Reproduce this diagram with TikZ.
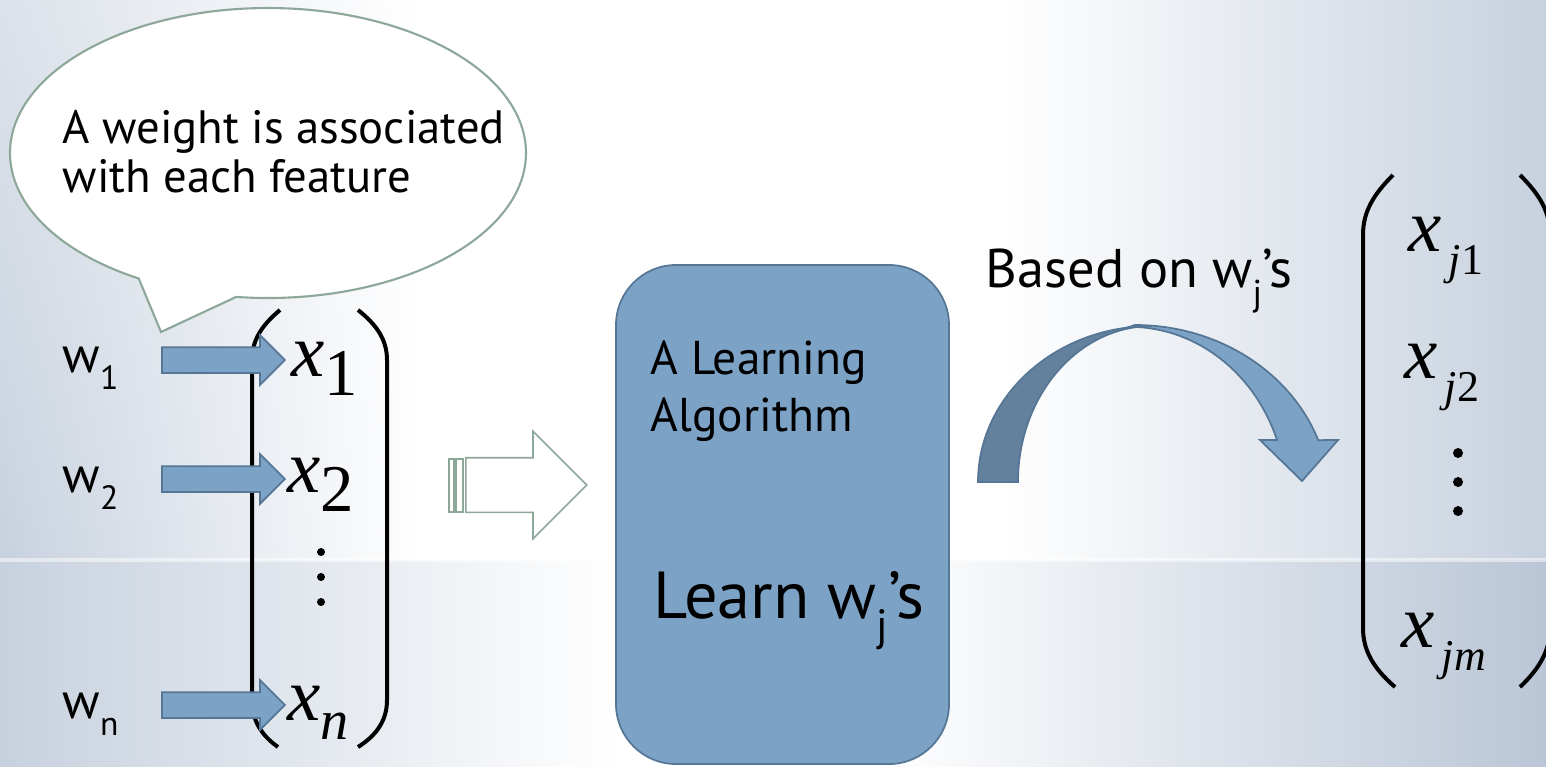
\documentclass[tikz,border=0pt]{standalone}
\usepackage{fontspec}
\setmainfont{PT Sans}
\newfontfamily\eqfont{Liberation Serif}
\usetikzlibrary{shapes.callouts,shapes.arrows,shadings}

\definecolor{steel}{RGB}{124,163,198}
\definecolor{steeldark}{RGB}{99,129,157}
\definecolor{steelline}{RGB}{86,118,150}
\definecolor{sage}{RGB}{141,167,153}
\definecolor{mistA}{RGB}{220,226,234}
\definecolor{mistB}{RGB}{199,209,222}
\definecolor{mistC}{RGB}{186,198,214}

% lowered small index (w_1, w_j ...)
\newcommand{\lo}[1]{\raisebox{-0.34em}{\scalebox{0.66}{#1}}}
% entries of the two vectors
\newcommand{\xin}[1]{{\eqfont\itshape x}\raisebox{-1.9mm}{\eqfont\fontsize{19}{19}\selectfont #1}}
\newcommand{\xout}[1]{{\eqfont\itshape x}\hspace{0.7mm}\raisebox{-2.3mm}{\eqfont\fontsize{12.5}{12.5}\selectfont #1}}

\begin{document}
\begin{tikzpicture}[x=0.1mm, y=-0.1mm,
  bubble/.style={ellipse callout, draw=sage, fill=white, line width=0.6pt,
    minimum width=51.6mm, minimum height=29mm, callout pointer arc=23, inner sep=0pt},
  wlab/.style={anchor=base west, inner sep=0pt, font=\fontsize{14.5}{17}\selectfont},
  wgt/.style={single arrow, draw=steelline, fill=steel, line width=0.5pt, anchor=tail,
    minimum height=12.3mm, minimum width=4.8mm, single arrow head extend=1.2mm,
    inner xsep=0pt, inner ysep=1.2mm},
  entry/.style={anchor=base west, inner sep=0pt, font=\fontsize{21.3}{24}\selectfont},
  paren/.style={line width=0.4mm},
  hollow/.style={single arrow, draw=sage, fill=white, line width=0.45pt, anchor=tail,
    minimum height=12.1mm, minimum width=10.6mm, single arrow head extend=2.65mm,
    inner xsep=0pt, inner ysep=2.65mm},
  algo/.style={rectangle, rounded corners=6mm, draw=steelline, fill=steel, line width=0.5pt,
    minimum width=33.3mm, minimum height=49.9mm},
  ]
  \useasboundingbox (0,0) rectangle (1546,766);
  \clip (0,0) rectangle (1546,766);

  % backdrop
  \fill[white] (0,0) rectangle (1546,766);
  \shade[upper left=mistA, lower left=mistB, upper right=white, lower right=white] (0,0) rectangle (420,560);
  \shade[upper left=white, lower left=white, upper right=mistB, lower right=mistB] (1000,0) rectangle (1546,560);
  \shade[left color=mistB, right color=white] (0,560) rectangle (620,766);
  \shade[left color=white, right color=mistC] (880,560) rectangle (1546,766);
  \fill[white, opacity=0.5] (0,558) rectangle (1546,562);

  % note
  \node[bubble, callout absolute pointer={(161,332)}] (note) at (268,153) {};
  \node[anchor=north west, align=left, inner sep=0pt, font=\fontsize{13.3}{13.7}\selectfont]
    (notetext) at (62,110) {A weight is associated\\with each feature};

  % input vector
  \draw[paren] (280,310) .. controls (262,325) and (252,340) .. (252,360) -- (252,700)
    .. controls (252,720) and (261,735) .. (278,747);
  \draw[paren] (358,310) .. controls (377,325) and (387,340) .. (387,360) -- (387,700)
    .. controls (387,720) and (377,735) .. (358,747);
  \node[entry] (x1) at (291,376) {\xin{1}};
  \node[entry] (x2) at (287,492) {\xin{2}};
  \node[entry] (xn) at (287,720) {\xin{\fontsize{16}{16}\selectfont\itshape n}};
  \foreach \y in {552,577,602}
    \fill (321,\y) circle[radius=0.4mm];

  \node[wlab] (w1) at (62,372) {w\lo{1}};
  \node[wlab] (w2) at (62,492) {w\lo{2}};
  \node[wlab] (wn) at (62,718) {w\lo{n}};
  \node[wgt] (a1) at (161,360) {};
  \node[wgt] (a2) at (161,479) {};
  \node[wgt] (an) at (161,705) {};

  % into the learner
  \draw[sage, line width=0.45pt] (449,459) rectangle (454,512);
  \draw[sage, line width=0.45pt] (456,459) rectangle (463,512);
  \node[hollow] (feed) at (465,485) {};

  \node[algo] (learner) at (782.5,514.5) {};
  \node[anchor=north west, align=left, inner sep=0pt, font=\fontsize{13.5}{16.2}\selectfont]
    (algoname) at (650,340) {A Learning\\Algorithm};
  \node[anchor=base west, inner sep=0pt, font=\fontsize{18.9}{22}\selectfont]
    (algotask) at (653,618) {Learn w\lo{j}’s};

  % curved arrow
  \filldraw[fill=steel, draw=steelline, line width=0.5pt] (1135,325)
    arc[start angle=270, end angle=340, x radius=195, y radius=175]
    -- (1338,440) -- (1302,481) -- (1260,440) -- (1277,440)
    arc[start angle=340, end angle=270, x radius=157, y radius=172] -- cycle;
  \filldraw[fill=steeldark, draw=steelline, line width=0.5pt] (978,482)
    arc[start angle=180, end angle=270, x radius=174, y radius=156]
    arc[start angle=270, end angle=180, x radius=134, y radius=156] -- cycle;
  \node[anchor=base west, inner sep=0pt, font=\fontsize{15.5}{18}\selectfont]
    (basis) at (985,287) {Based on w\lo{j}’s};

  % output vector
  \draw[paren] (1393,175) .. controls (1373,195) and (1363,212) .. (1363,235) -- (1363,628)
    .. controls (1363,650) and (1373,668) .. (1395,687);
  \draw[paren] (1520,175) .. controls (1540,195) and (1550,212) .. (1550,235) -- (1550,628)
    .. controls (1550,650) and (1540,668) .. (1520,687);
  \node[entry] (xj1) at (1408,251) {\xout{\textit{j}1}};
  \node[entry] (xj2) at (1404,378) {\xout{\textit{j}2}};
  \node[entry] (xjm) at (1401,647) {\xout{\textit{jm}}};
  \foreach \y in {453,482,511}
    \fill (1458,\y) circle[radius=0.5mm];
\end{tikzpicture}
\end{document}
